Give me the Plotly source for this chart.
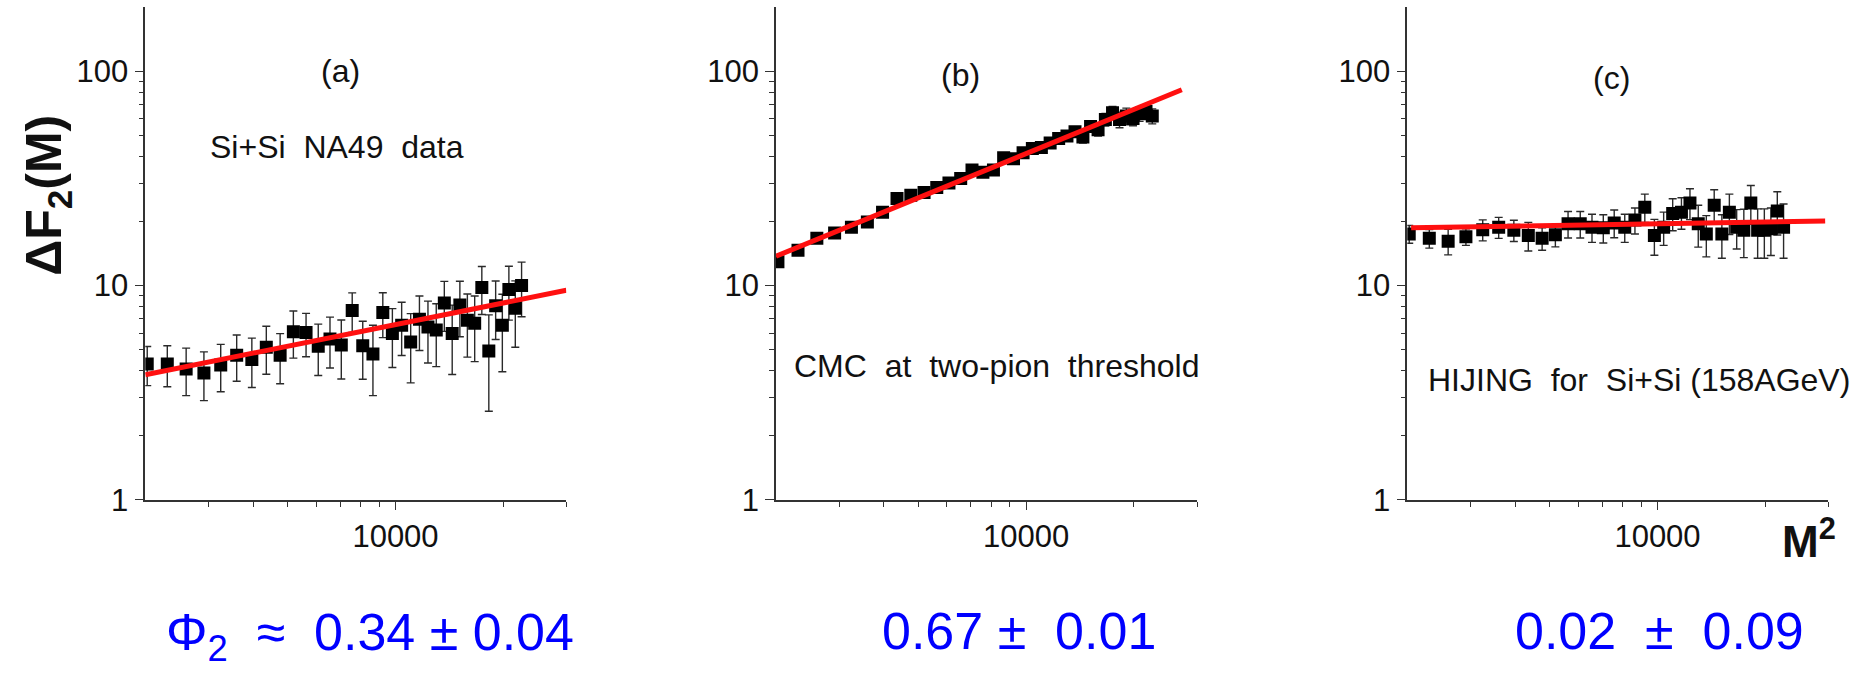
import plotly.graph_objects as go

# ---------------- data ----------------
M2 = [2025, 2304, 2601, 2916, 3249, 3600, 3969, 4356, 4761, 5184, 5625, 6084,
      6561, 7056, 7569, 8100, 8649, 9216, 9801, 10404, 11025, 11664, 12321, 12996,
      13689, 14400, 15129, 15876, 16641, 17424, 18225, 19044, 19881, 20736, 21609, 22500]

ya = [4.30, 4.30, 4.08, 3.90, 4.25, 4.72, 4.51, 5.15, 4.72, 6.09, 6.03, 5.20,
      5.62, 5.28, 7.64, 5.23, 4.79, 7.48, 5.97, 6.53, 5.45, 6.95, 6.40, 6.20,
      8.28, 5.97, 8.11, 6.88, 6.67, 9.79, 4.94, 8.05, 6.53, 9.59, 7.83, 10.0]
ea = [0.89, 0.93, 1.02, 1.00, 1.06, 1.15, 1.17, 1.30, 1.24, 1.51, 1.38, 1.40,
      1.50, 1.62, 1.60, 1.58, 1.73, 1.77, 1.83, 1.82, 1.94, 1.98, 2.05, 2.02,
      2.17, 2.13, 2.35, 2.25, 2.26, 2.47, 2.35, 2.45, 2.57, 2.70, 2.68, 2.85]

yb = [12.9, 14.6, 16.6, 17.6, 18.7, 19.8, 22.0, 25.5, 26.4, 27.2, 28.7, 30.1,
      31.6, 34.6, 33.8, 34.6, 39.5, 39.1, 41.7, 43.6, 44.1, 46.3, 48.5, 49.9,
      52.2, 49.3, 55.2, 53.4, 59.5, 64.1, 59.5, 61.8, 60.2, 63.4, 64.9, 61.8]
eb = [0.4, 0.4, 0.5, 0.5, 0.5, 0.6, 0.6, 0.7, 0.7, 0.8, 0.8, 0.9,
      0.9, 1.0, 1.0, 1.1, 1.2, 1.2, 1.3, 1.3, 1.4, 1.5, 1.6, 1.8,
      2.0, 3.0, 2.5, 3.5, 4.0, 4.5, 5.0, 5.5, 4.5, 5.0, 4.5, 5.0]

yc = [17.4, 16.6, 16.1, 16.9, 18.2, 18.7, 18.1, 17.1, 16.6, 17.25, 19.4, 19.4,
      18.7, 18.6, 19.6, 18.7, 20.2, 23.2, 17.1, 18.7, 21.7, 22.0, 24.3, 19.4,
      17.4, 23.7, 17.4, 22.0, 18.7, 18.1, 24.3, 18.1, 18.1, 18.4, 22.3, 18.7]
ec = [1.65, 1.65, 2.2, 1.5, 2.05, 2.1, 2.05, 2.6, 2.0, 2.1, 2.75, 2.75,
      2.8, 2.8, 2.9, 2.8, 2.8, 3.5, 3.25, 3.3, 3.7, 3.7, 4.0, 4.3,
      3.8, 4.3, 4.0, 4.7, 3.9, 4.6, 5.0, 4.7, 4.7, 4.6, 5.1, 5.3]

# power-law fits (end points of each red line)
fit_a_x = [2000, 30000]
fit_a_y = [3.83, 9.5]
fit_b_x = [2000, 27200]
fit_b_y = [13.7, 82.0]
fit_c_x = [2050, 29400]
fit_c_y = [18.6, 20.0]

panel_labels = ["(a)", "(b)", "(c)"]
panel_texts = ["Si+Si \u00a0NA49 \u00a0data",
               "CMC \u00a0at \u00a0two-pion \u00a0threshold",
               "HIJING \u00a0for \u00a0Si+Si (158AGeV)"]
phi_texts = ["\u03a6<sub>2</sub> \u00a0\u2248 \u00a00.34 \u00b1 0.04",
             "0.67 \u00b1 \u00a00.01",
             "0.02 \u00a0\u00b1 \u00a00.09"]

x_major = [10000]
x_minor = [3000, 4000, 5000, 6000, 7000, 8000, 9000, 20000, 30000]
y_major = [1, 10, 100]
y_minor = [2, 3, 4, 5, 6, 7, 8, 9, 20, 30, 40, 50, 60, 70, 80, 90]

# ---------------- layout geometry ----------------
W, H = 1872, 680
FONT = "Arial, 'Liberation Sans', Helvetica, sans-serif"


def px(x):
    return x / W


def py(y):
    return 1 - y / H


x_domains = [[145.3, 566.3], [776.0, 1197.0], [1407.3, 1828.3]]
y_dom = [py(513.3), py(7.0)]

fig = go.Figure()

datasets = [(ya, ea, fit_a_x, fit_a_y), (yb, eb, fit_b_x, fit_b_y), (yc, ec, fit_c_x, fit_c_y)]
for i, (yy, ee, fx, fy) in enumerate(datasets):
    sfx = "" if i == 0 else str(i + 1)
    fig.add_trace(go.Scatter(
        x=M2, y=yy, mode="markers",
        marker=dict(symbol="square", size=13, color="black", line=dict(width=0)),
        error_y=dict(type="data", array=ee, visible=True, color="#2a2a2a",
                     thickness=1.4, width=4),
        xaxis="x" + sfx, yaxis="y" + sfx, showlegend=False))
    fig.add_trace(go.Scatter(
        x=fx, y=fy, mode="lines", line=dict(color="#ff1010", width=5),
        xaxis="x" + sfx, yaxis="y" + sfx, showlegend=False))

axis_common = dict(
    type="log", showgrid=False, zeroline=False, showline=True,
    linecolor="#333333", linewidth=1.6, ticks="outside", tickcolor="#333333",
    tickwidth=1.4, tickfont=dict(family=FONT, size=31, color="#111111"),
)

layout = dict(
    width=W, height=H, margin=dict(l=0, r=0, t=0, b=0, pad=0),
    paper_bgcolor="white", plot_bgcolor="white", showlegend=False,
)
for i in range(3):
    sfx = "" if i == 0 else str(i + 1)
    layout["xaxis" + sfx] = dict(
        axis_common, domain=[px(x_domains[i][0]), px(x_domains[i][1])],
        range=[3.30103, 4.47712], anchor="y" + sfx,
        tickmode="array", tickvals=x_major, ticktext=[str(v) for v in x_major],
        ticklen=8,
        minor=dict(tickmode="array", tickvals=x_minor, ticks="outside",
                   ticklen=5, tickwidth=1.2, tickcolor="#333333", showgrid=False),
    )
    layout["yaxis" + sfx] = dict(
        axis_common, domain=y_dom, range=[0, 2.30103], anchor="x" + sfx,
        tickmode="array", tickvals=y_major, ticktext=[str(v) for v in y_major],
        ticklen=9,
        minor=dict(tickmode="array", tickvals=y_minor, ticks="outside",
                   ticklen=5, tickwidth=1.2, tickcolor="#333333", showgrid=False),
    )
fig.update_layout(**layout)

ann = []
label_pos = [(340, 73), (961, 77), (1611, 80)]
text_pos = [(337, 151), (997, 376), (1639, 390)]
for i in range(3):
    ann.append(dict(x=px(label_pos[i][0]), y=py(label_pos[i][1]), xref="paper", yref="paper",
                    text=panel_labels[i], showarrow=False, xanchor="center", yanchor="middle",
                    font=dict(family=FONT, size=32, color="#111111")))
    ann.append(dict(x=px(text_pos[i][0]), y=py(text_pos[i][1]), xref="paper", yref="paper",
                    text=panel_texts[i], showarrow=False, xanchor="center", yanchor="middle",
                    font=dict(family=FONT, size=32, color="#111111")))

# y-axis title
ann.append(dict(x=px(48), y=py(201), xref="paper", yref="paper",
                text="\u0394F<sub>2</sub>(M)", textangle=-90, showarrow=False,
                xanchor="center", yanchor="middle",
                font=dict(family=FONT, size=50, color="#111111", weight="bold")))
# x-axis title
ann.append(dict(x=px(1780), y=py(553), xref="paper", yref="paper",
                text="M<sup>2</sup>", showarrow=False, xanchor="left", yanchor="middle",
                font=dict(family=FONT, size=44, color="#111111", weight="bold")))

phi_pos = [(164, 653), (880, 648), (1513, 648)]
for i in range(3):
    ann.append(dict(x=px(phi_pos[i][0]), y=py(phi_pos[i][1]), xref="paper", yref="paper",
                    text=phi_texts[i], showarrow=False, xanchor="left", yanchor="middle",
                    font=dict(family=FONT, size=52, color="#0000ff")))

fig.update_layout(annotations=ann)
fig.write_html("out.html")
